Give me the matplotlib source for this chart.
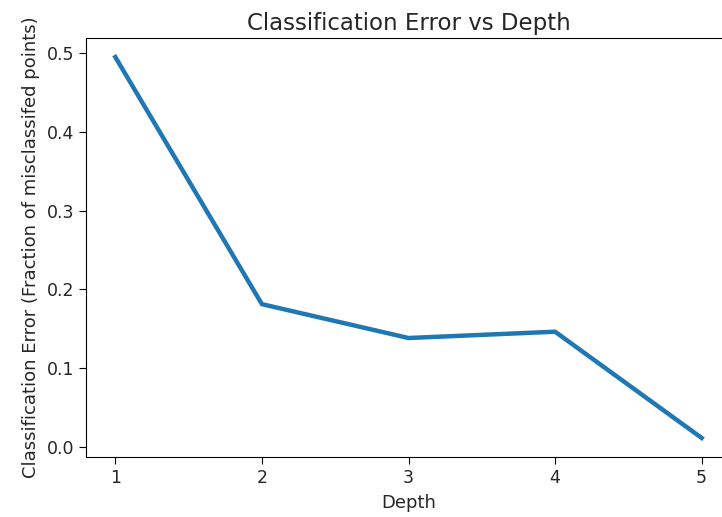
# 決定木の深さと分類誤差

import numpy as np
import matplotlib.pyplot as plt

LINE_WIDTH = 3.2

# データ
depths = [1, 2, 3, 4, 5]
errors = [0.495, 0.181, 0.138, 0.146, 0.011]


def main():
    fig = plt.figure(figsize=(7.22, 5.17), dpi=100)
    # 右端は元画像で切れているので、軸を図の外まで伸ばす
    ax = fig.add_axes([86 / 722, 60 / 517, 645 / 722, 419 / 517])

    ax.plot(depths, errors, linewidth=LINE_WIDTH, color="#1f77b4")

    ax.set_xticks(depths)
    ax.set_yticks(np.arange(0, 0.51, 0.1))
    ax.set_title("Classification Error vs Depth", fontsize=16.5, color="#262626")
    ax.set_xlabel("Depth", fontsize=13, color="#262626", labelpad=5)
    ax.set_ylabel("Classification Error (Fraction of misclassifed points)",
                  fontsize=13, color="#262626", labelpad=5)
    ax.tick_params(labelsize=12.5, labelcolor="#262626", length=5)
    ax.spines["right"].set_visible(False)

    fig.savefig("out.png", dpi=100)


if __name__ == "__main__":
    main()
